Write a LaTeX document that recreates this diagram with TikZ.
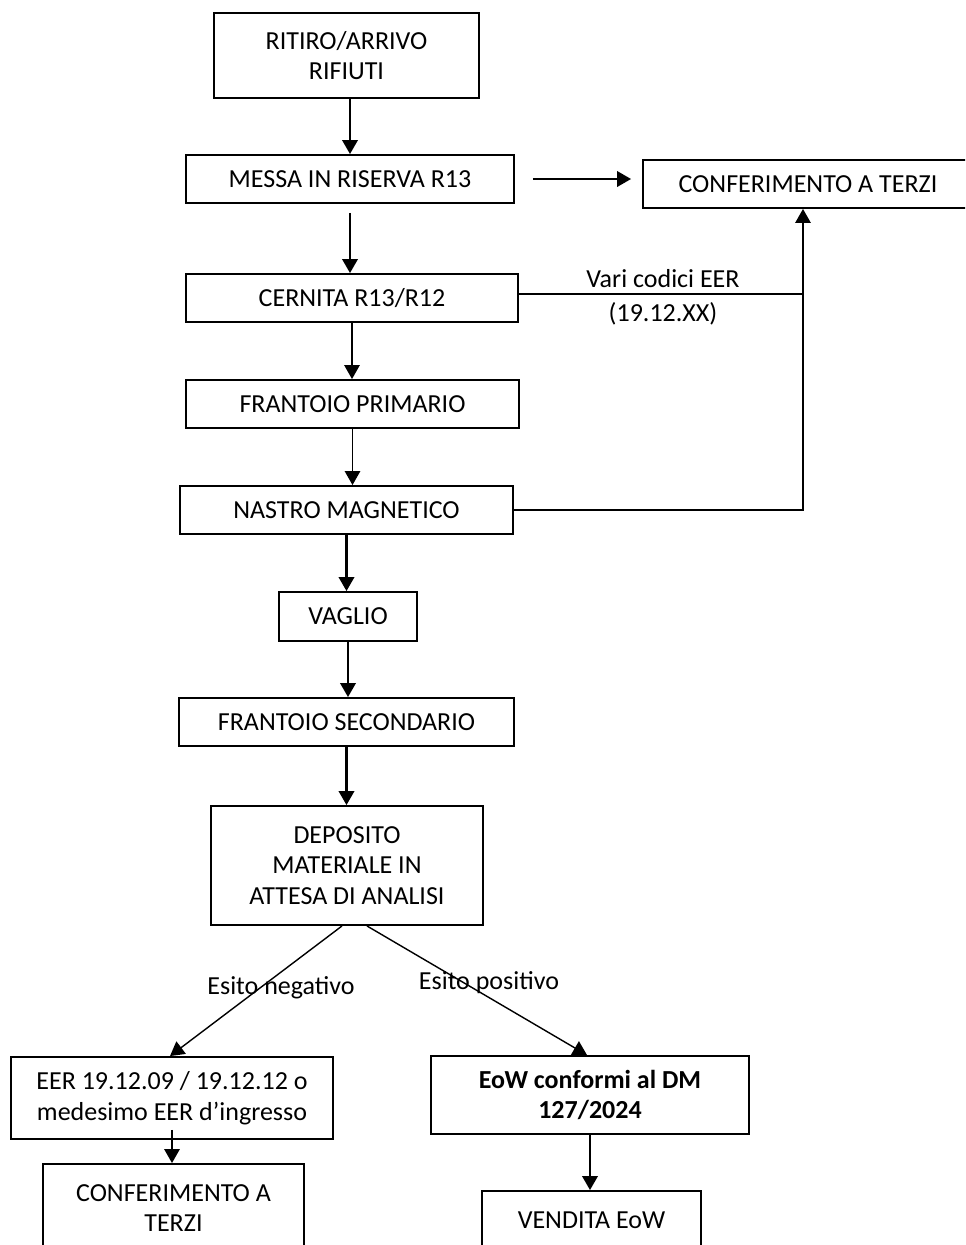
\documentclass[tikz,border=0pt]{standalone}
\usepackage{fontspec}
\setmainfont{Carlito}
\usetikzlibrary{arrows.meta}

\begin{document}
\begin{tikzpicture}[x=0.02cm, y=-0.02cm]
  \tikzset{
    proc_box/.style={draw, line width=1.1pt, inner sep=0pt, align=center,
      font=\fontsize{14.8}{17.5}\selectfont},
    arr_thick/.style={line width=1.2pt, -{Triangle[length=0.28cm, width=0.31cm]}},
    arr_thin/.style={line width=0.8pt, -{Triangle[length=0.28cm, width=0.31cm]}},
    flow_lbl/.style={inner sep=0pt, font=\fontsize{14.8}{17.5}\selectfont},
  }

  % page frame
  \useasboundingbox (0,0) rectangle (965,1245);
  \clip (0,0) rectangle (965,1245);

  % main column
  \node[proc_box, minimum width=5.3cm, minimum height=1.7cm] (box_ritiro) at (346.5,55.5) {RITIRO/ARRIVO\\RIFIUTI};
  \node[proc_box, minimum width=6.56cm, minimum height=0.96cm] (box_messa) at (350,179) {MESSA IN RISERVA R13};
  \node[proc_box, minimum width=6.6cm, minimum height=0.96cm] (box_conf_a) at (808,184) {CONFERIMENTO A TERZI};
  \node[proc_box, minimum width=6.64cm, minimum height=0.96cm] (box_cernita) at (352,298) {CERNITA R13/R12};
  \node[proc_box, minimum width=6.66cm, minimum height=0.96cm] (box_primario) at (352.5,404) {FRANTOIO PRIMARIO};
  \node[proc_box, minimum width=6.66cm, minimum height=0.96cm] (box_nastro) at (346.5,510) {NASTRO MAGNETICO};
  \node[proc_box, minimum width=2.76cm, minimum height=0.98cm] (box_vaglio) at (348,616.5) {VAGLIO};
  \node[proc_box, minimum width=6.7cm, minimum height=0.96cm] (box_secondario) at (346.5,722) {FRANTOIO SECONDARIO};
  \node[proc_box, minimum width=5.44cm, minimum height=2.38cm] (box_deposito) at (347,865.5) {DEPOSITO\\MATERIALE IN\\ATTESA DI ANALISI};

  % outcomes
  \node[proc_box, minimum width=6.44cm, minimum height=1.64cm] (box_eer) at (172,1098) {EER 19.12.09 / 19.12.12 o\\medesimo EER d’ingresso};
  \node[proc_box, minimum width=6.36cm, minimum height=1.56cm, font=\fontsize{14.8}{17.5}\selectfont\bfseries] (box_eow) at (590,1095) {EoW conformi al DM\\127/2024};
  \node[proc_box, minimum width=5.22cm, minimum height=1.76cm] (box_conf_b) at (173.5,1208) {CONFERIMENTO A\\TERZI};
  \node[proc_box, minimum width=4.38cm, minimum height=1.16cm] (box_vendita) at (591.5,1220) {VENDITA EoW};

  % arrows down the column
  \draw[arr_thick] (box_ritiro.south -| box_messa.north) -- (box_messa.north);
  \draw[arr_thick, shorten <=0.18cm] (box_messa.south) -- (box_messa.south |- box_cernita.north);
  \draw[arr_thin] (box_cernita.south) -- (box_cernita.south |- box_primario.north);
  \draw[arr_thin] (box_primario.south) -- (box_primario.south |- box_nastro.north);
  \draw[arr_thick] (box_nastro.south) -- (box_nastro.south |- box_vaglio.north);
  \draw[arr_thick] (box_vaglio.south) -- (box_vaglio.south |- box_secondario.north);
  \draw[arr_thick] (box_secondario.south) -- (box_secondario.south |- box_deposito.north);

  % side exits
  \draw[arr_thick, shorten <=0.36cm, shorten >=0.22cm] (box_messa.east) -- (box_messa.east -| box_conf_a.west);
  \coordinate (jn_side) at (803,294);
  \draw[line width=0.8pt] (box_cernita.east |- jn_side) -- (jn_side);
  \draw[arr_thin] (box_nastro.east) -| (jn_side) -- (jn_side |- box_conf_a.south);
  \node[flow_lbl] (lbl_codes) at (663,279) {Vari codici EER};
  \node[flow_lbl] (lbl_xx) at (663,314) {(19.12.XX)};

  % analysis result
  \draw[arr_thin] ([xshift=-0.1cm]box_deposito.south) -- ([xshift=-0.04cm]box_eer.north);
  \draw[arr_thin] ([xshift=0.4cm]box_deposito.south) -- ([xshift=-0.06cm]box_eow.north);
  \node[flow_lbl] (lbl_neg) at (281,988) {Esito negativo};
  \node[flow_lbl] (lbl_pos) at (489,983) {Esito positivo};

  \draw[arr_thin] ([yshift=0.2cm]box_eer.south) -- (box_eer.south |- box_conf_b.north);
  \draw[arr_thick] (box_eow.south) -- (box_eow.south |- box_vendita.north);
\end{tikzpicture}
\end{document}
